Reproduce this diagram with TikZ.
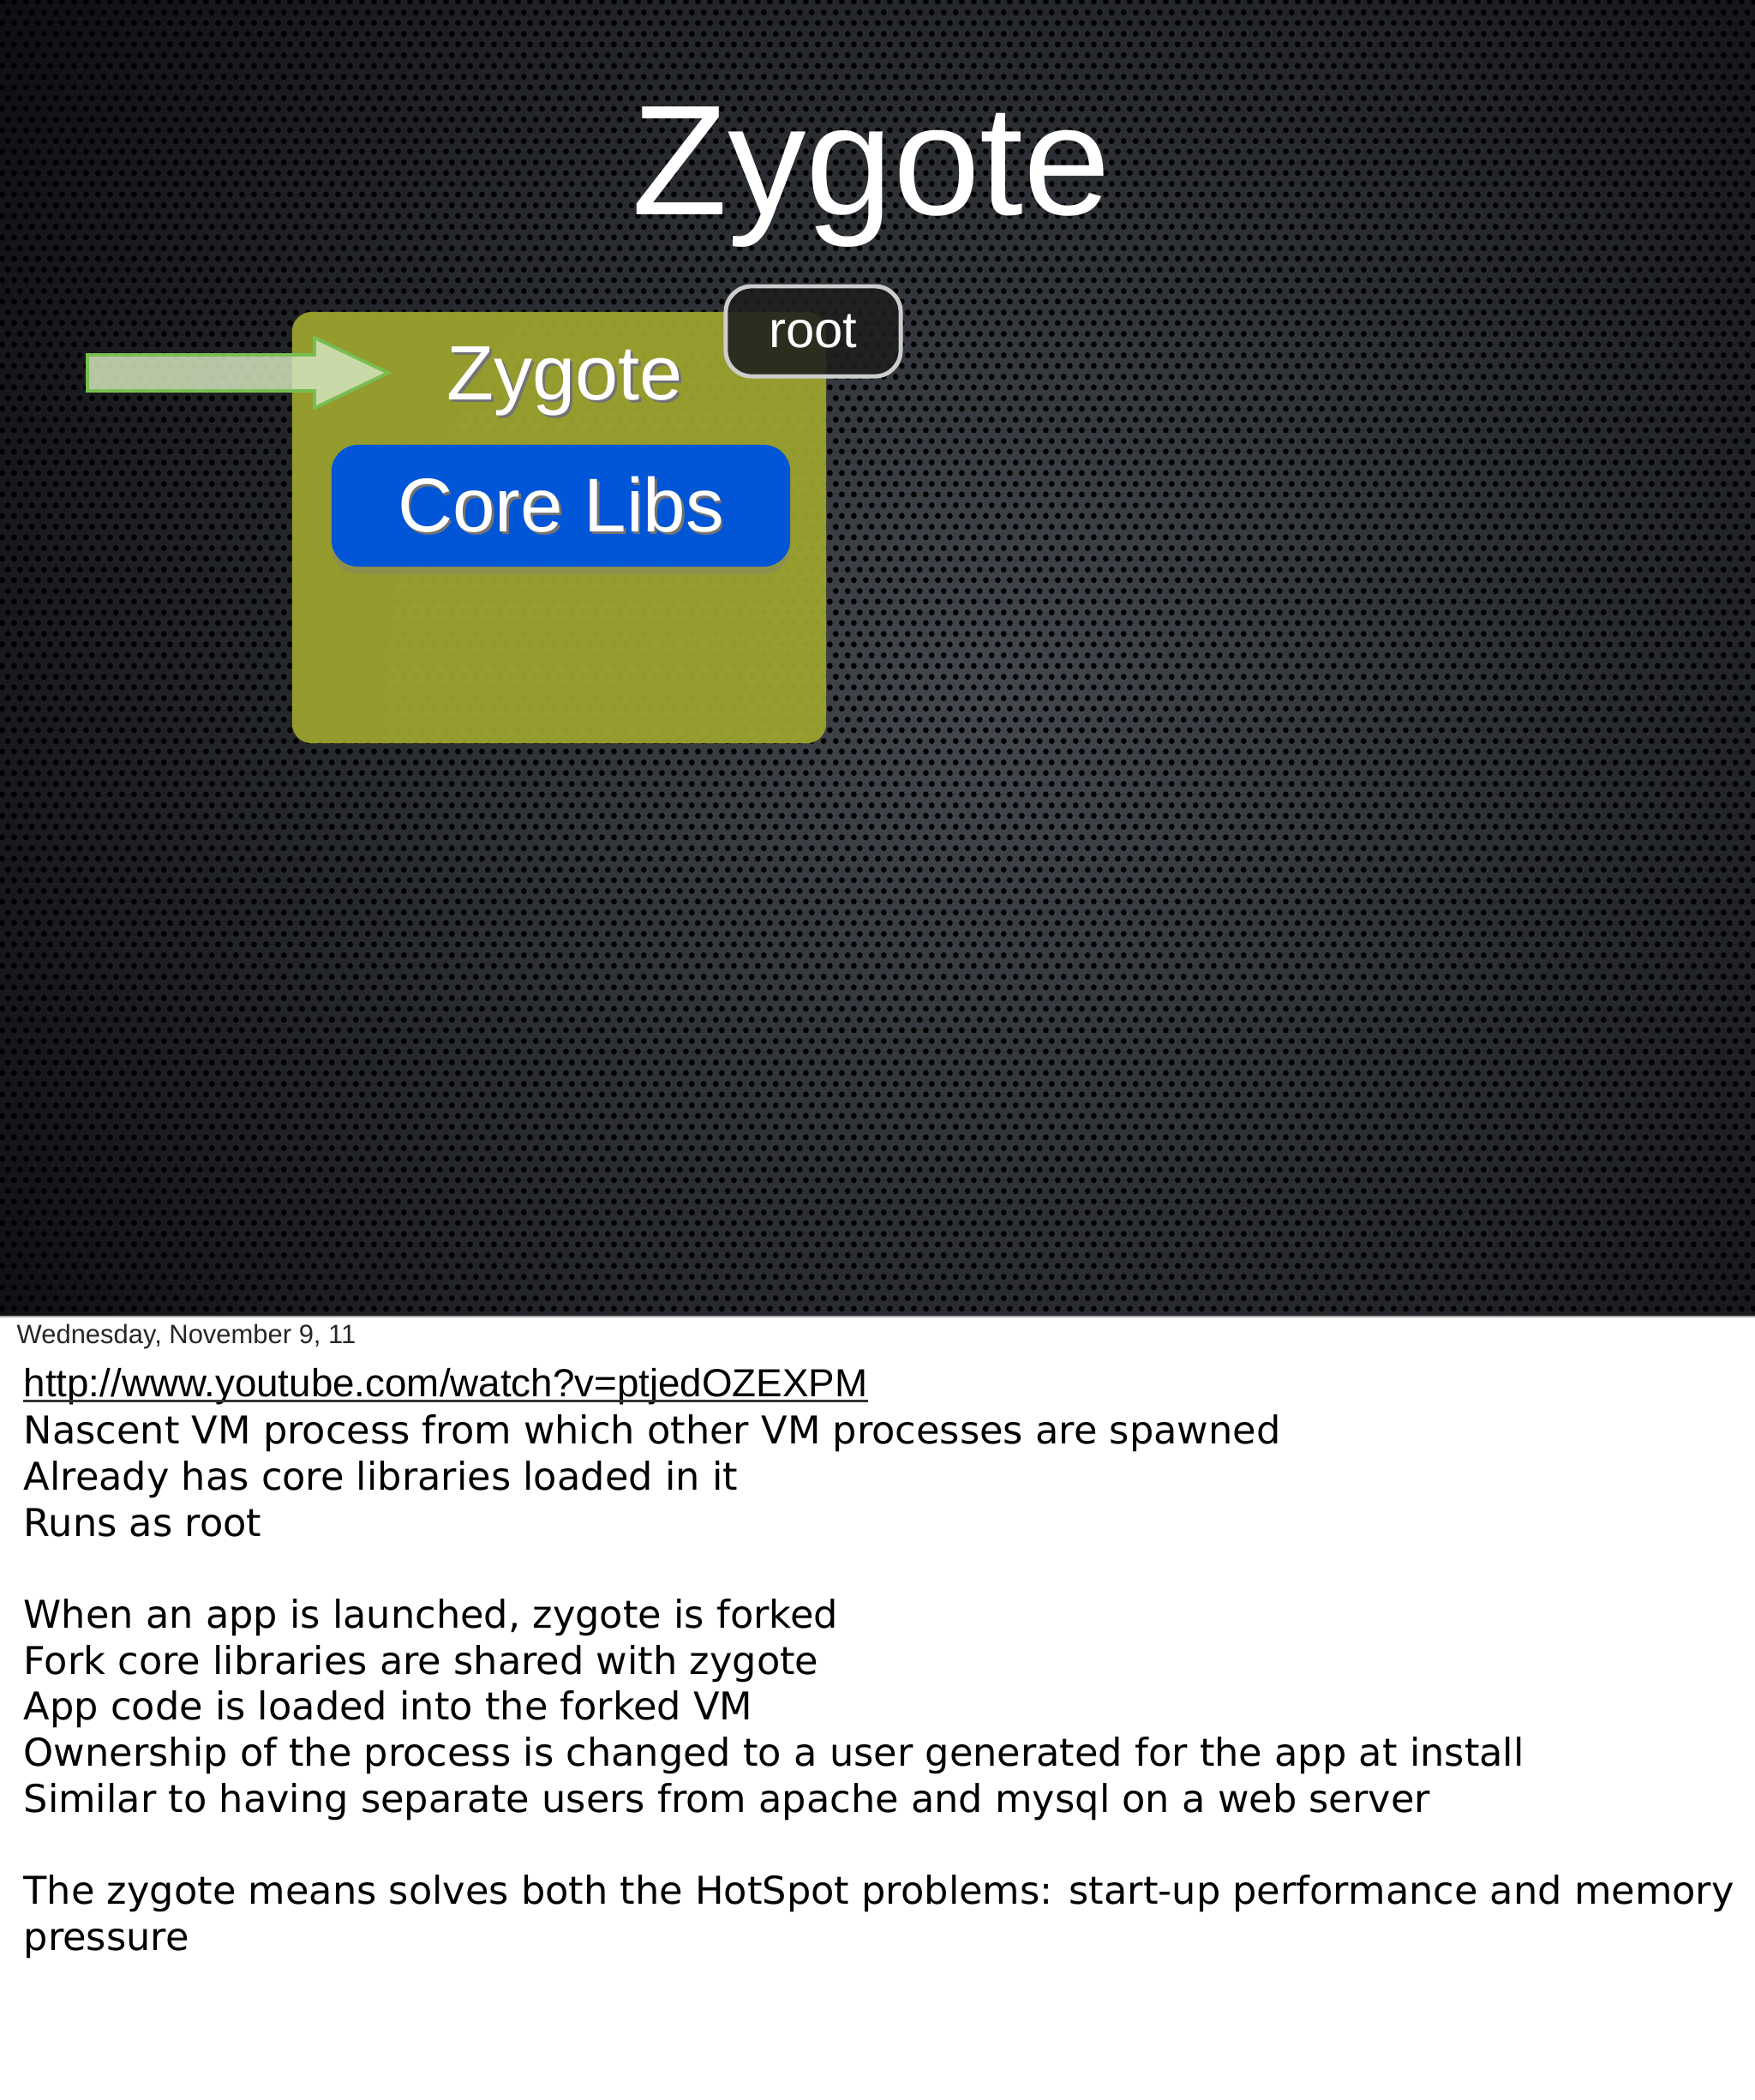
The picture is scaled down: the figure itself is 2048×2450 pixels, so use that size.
\documentclass[tikz,border=0pt]{standalone}
\usepackage{fontspec}
\setmainfont{Liberation Sans}
\newfontfamily\notesfont{DejaVu Sans}
\usetikzlibrary{positioning,shadows,patterns}

\definecolor{slidemid}{RGB}{68,72,78}
\definecolor{slideedge}{RGB}{12,13,16}
\definecolor{zygotefill}{RGB}{157,163,46}
\definecolor{libsblue}{RGB}{0,86,214}
\definecolor{badgefill}{RGB}{30,30,30}
\definecolor{badgeline}{RGB}{205,205,205}
\definecolor{arrowfill}{RGB}{212,228,190}
\definecolor{arrowline}{RGB}{120,190,80}

% perforated metal look of the slide
\pgfdeclarepatternformonly{meshholes}{\pgfpointorigin}{\pgfpoint{4.07pt}{7.05pt}}{\pgfpoint{4.07pt}{7.05pt}}{
    \pgfpathcircle{\pgfpoint{1.0175pt}{1.7625pt}}{1pt}
    \pgfpathcircle{\pgfpoint{3.0525pt}{5.2875pt}}{1pt}
    \pgfusepath{fill}
}

\newcommand{\shadowtext}[1]{\rlap{\kern0.03em\raisebox{-0.04em}{\color{black!55}#1}}#1}

\begin{document}
\begin{tikzpicture}[x=0.01cm, y=-0.01cm,
    slidetitle/.style={text=white, inner sep=0pt, anchor=base, font=\fontsize{52pt}{60pt}\selectfont},
    zygotebox/.style={fill=zygotefill, fill opacity=0.94, rounded corners=0.23cm, minimum width=6.23cm, minimum height=5.03cm},
    boxlabel/.style={text=white, inner sep=0pt, anchor=base, font=\fontsize{25.6pt}{30pt}\selectfont},
    libsbox/.style={fill=libsblue, rounded corners=0.31cm, minimum width=5.35cm, minimum height=1.42cm,
        text=white, inner sep=0pt, font=\fontsize{25.3pt}{30pt}\selectfont,
        drop shadow={opacity=0.35, shadow xshift=0pt, shadow yshift=-2.5pt}},
    badge/.style={fill=badgefill, fill opacity=0.88, text opacity=1, draw=badgeline, line width=1.4pt,
        rounded corners=0.3cm, minimum width=2.04cm, minimum height=1.05cm,
        text=white, inner sep=0pt, font=\fontsize{17pt}{20pt}\selectfont},
    blockarrow/.style={fill=arrowfill, fill opacity=0.85, draw=arrowline, line width=1.1pt, line join=miter},
    notes/.style={anchor=base west, inner sep=0pt, font=\notesfont\fontsize{12.7pt}{15pt}\selectfont}]

    % Page and slide
    \fill[white] (0,0) rectangle (2048,2450);
    \useasboundingbox (0,0) rectangle (2048,2450);
    \begin{scope}
        \clip (0,0) rectangle (2048,1536);
        \fill[slideedge] (0,0) rectangle (2048,1536);
        \shade[inner color=slidemid, outer color=slideedge] (1150,820) circle (14.5cm);
        \fill[pattern=meshholes, pattern color=black] (0,0) rectangle (2048,1536);
    \end{scope}
    \draw[gray!70, line width=0.6pt] (0,1536) -- (2048,1536);

    % Title
    \node[slidetitle] (title) at (1017,250) {Zygote};

    % Zygote process
    \node[zygotebox] (zygote) at (652.5,615.5) {};
    \node[boxlabel] (zlabel) at (659,466) {\shadowtext{Zygote}};
    \node[libsbox] (libs) at (654.5,590) {\shadowtext{Core Libs}};
    \node[badge] (root) at (949,386.5) {root};

    % Launch arrow
    \draw[blockarrow] (102,414) -- (367,414) -- (367,394) -- (453,435)
        -- (367,476) -- (367,456) -- (102,456) -- cycle;

    % Speaker notes
    \node[anchor=base west, inner sep=0pt, text=black!85, font=\fontsize{8.8pt}{10pt}\selectfont]
        (date) at (19,1567) {Wednesday, November 9, 11};
    \node[anchor=base west, inner sep=0pt, font=\fontsize{13pt}{15pt}\selectfont]
        (url) at (27,1629) {http://www.youtube.com/watch?v=ptjedOZEXPM};
    \draw[black!80, line width=0.7pt] ([yshift=-1.6pt]url.base west) -- ([yshift=-1.6pt]url.base east);
    \foreach \y/\txt [count=\i] in {
        1684/Nascent VM process from which other VM processes are spawned,
        1738/Already has core libraries loaded in it,
        1792/Runs as root,
        1899/When an app is launched{,} zygote is forked,
        1953/Fork core libraries are shared with zygote,
        2006/App code is loaded into the forked VM,
        2060/Ownership of the process is changed to a user generated for the app at install,
        2114/Similar to having separate users from apache and mysql on a web server,
        2221/The zygote means solves both the HotSpot problems: start-up performance and memory,
        2275/pressure
    } {
        \node[notes] (note\i) at (27,\y) {\txt};
    }
\end{tikzpicture}
\end{document}
